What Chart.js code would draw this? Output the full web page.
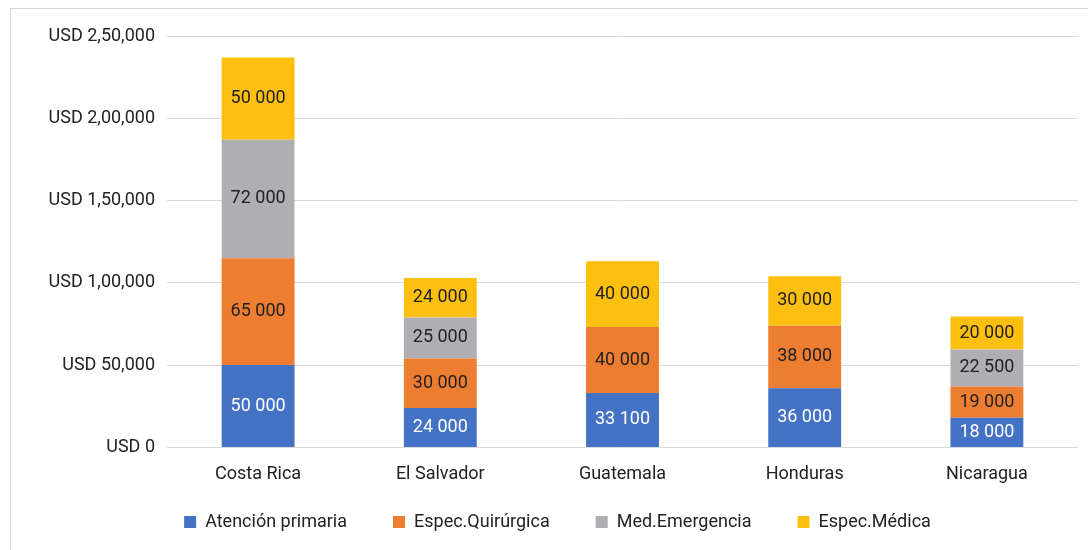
<!DOCTYPE html>
<html>
<head>
<meta charset="utf-8">
<script src="https://cdn.jsdelivr.net/npm/chart.js@4"></script>
<style>
  body { margin: 0; background: #fff; }
  #frame { position: absolute; left: 10px; top: 8px; width: 1100px; height: 560px; border: 1px solid #d9d9d9; }
  #wrap { position: absolute; left: 11px; top: 9px; width: 1077px; height: 541px; }
</style>
</head>
<body>
<div id="frame"></div>
<div id="wrap"><canvas id="chart"></canvas></div>
<script>
const countries = ['Costa Rica', 'El Salvador', 'Guatemala', 'Honduras', 'Nicaragua'];
const atencionPrimaria = [50000, 24000, 33100, 36000, 18000];
const especQuirurgica = [65000, 30000, 40000, 38000, 19000];
const medEmergencia = [72000, 25000, null, null, 22500];
const especMedica = [50000, 24000, 40000, 30000, 20000];
const yTicks = [0, 50000, 100000, 150000, 200000, 250000];

const FONT = "'Roboto', 'Liberation Sans', sans-serif";

// etiquetas dentro de cada segmento
const barLabels = {
   id: 'barLabels',
   afterDatasetsDraw(chart) {
      const ctx = chart.ctx;
      ctx.save();
      ctx.font = '18px ' + FONT;
      ctx.textAlign = 'center';
      ctx.textBaseline = 'middle';
      chart.data.datasets.forEach((ds, i) => {
         chart.getDatasetMeta(i).data.forEach((bar, j) => {
            const v = ds.data[j];
            if (v == null) return;
            const y = (bar.y + bar.base) / 2;
            ctx.fillStyle = i === 0 ? '#ffffff' : '#222222';
            ctx.fillText(v.toLocaleString('en-US').replace(/,/g, ' '), bar.x, y);
         });
      });
      ctx.restore();
   }
};

// leyenda con mucho espacio horizontal pero poca altura
const legendHeight = {
   id: 'legendHeight',
   afterInit(chart) {
      const legend = chart.legend;
      const fit = legend.fit;
      legend.fit = function () {
         fit.call(this);
         this.height = 57;
      };
   },
   afterLayout(chart) {
      const lg = chart.legend;
      lg.top -= 26;
      lg.height += 26;
      lg.left += 13;
      lg.right += 13;
   }
};

function fmtIndian(v) {
   if (v === 0) return 'USD 0';
   const s = String(v);
   const last3 = s.slice(-3);
   let rest = s.slice(0, -3);
   const parts = [];
   while (rest.length > 2) {
      parts.unshift(rest.slice(-2));
      rest = rest.slice(0, -2);
   }
   if (rest) parts.unshift(rest);
   return 'USD ' + parts.join(',') + ',' + last3;
}

new Chart(document.getElementById('chart'), {
   type: 'bar',
   data: {
      labels: countries,
      datasets: [
         { label: 'Atención primaria', data: atencionPrimaria, backgroundColor: '#4472c4' },
         { label: 'Espec.Quirúrgica', data: especQuirurgica, backgroundColor: '#ed7d31' },
         { label: 'Med.Emergencia', data: medEmergencia, backgroundColor: '#afafb3' },
         { label: 'Espec.Médica', data: especMedica, backgroundColor: '#fdc010' }
      ]
   },
   options: {
      responsive: true,
      maintainAspectRatio: false,
      animation: false,
      datasets: { bar: { categoryPercentage: 1, barPercentage: 0.4 } },
      layout: { padding: { top: 27, right: 10, bottom: 0, left: 0 } },
      plugins: {
         legend: {
            position: 'bottom',
            labels: {
               boxWidth: 12,
               boxHeight: 12,
               padding: 46,
               color: '#222',
               font: { family: FONT, size: 18 }
            }
         },
         tooltip: { enabled: false }
      },
      scales: {
         x: {
            stacked: true,
            grid: { display: false },
            border: { display: false },
            ticks: { color: '#222', font: { family: FONT, size: 18 }, padding: 8 }
         },
         y: {
            stacked: true,
            min: 0,
            max: 250000,
            afterFit: (scale) => { scale.width = 156; },
            afterBuildTicks: (scale) => { scale.ticks = yTicks.map(v => ({ value: v })); },
            grid: { color: '#d9d9d9', drawTicks: false },
            border: { display: false },
            ticks: {
               color: '#222',
               padding: 12,
               font: { family: FONT, size: 18 },
               callback: (v) => fmtIndian(v)
            }
         }
      }
   },
   plugins: [barLabels, legendHeight]
});
</script>
</body>
</html>
